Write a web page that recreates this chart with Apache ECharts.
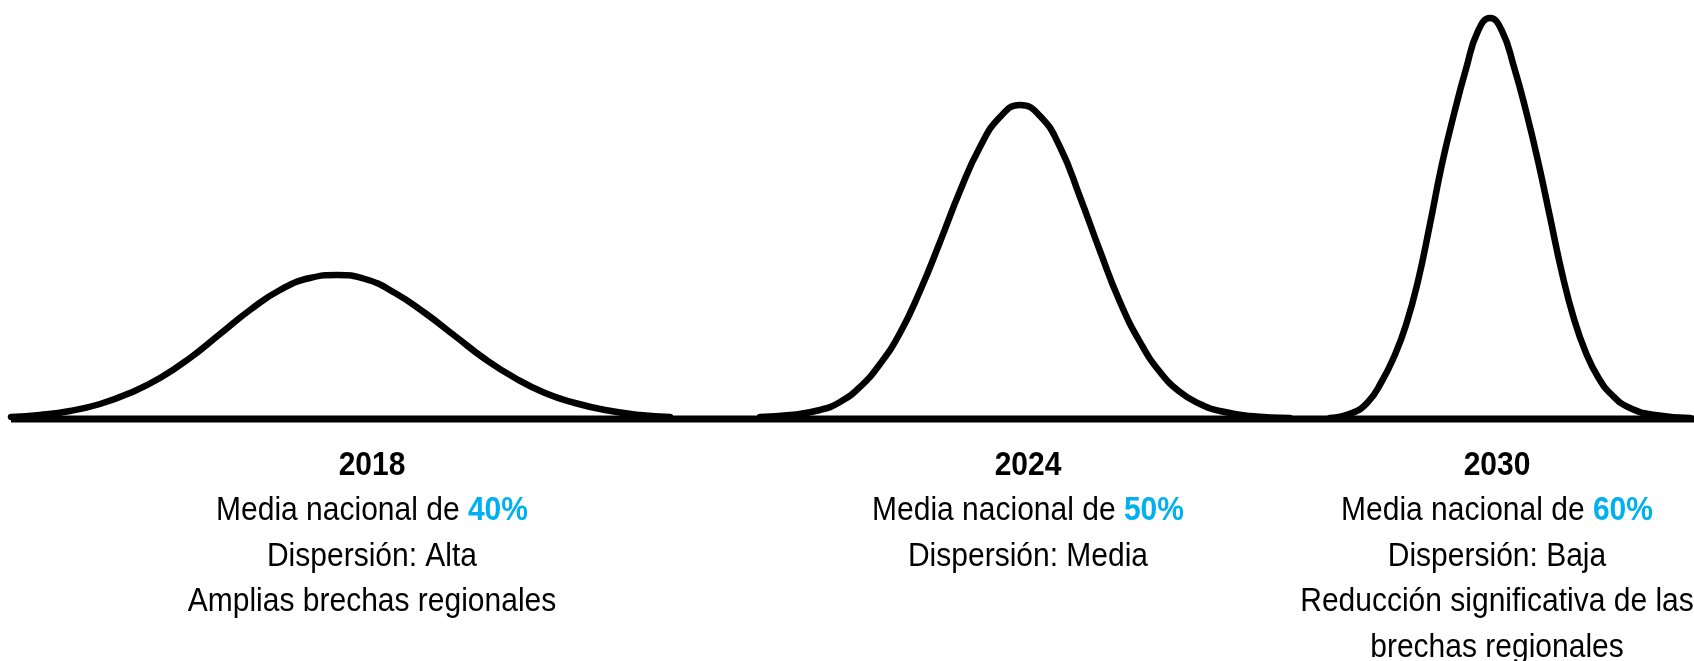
<!DOCTYPE html>
<html>
<head>
<meta charset="utf-8">
<script src="https://cdn.jsdelivr.net/npm/echarts@6/dist/echarts.min.js"></script>
<style>
  html, body { margin: 0; padding: 0; background: #ffffff; }
  #chart { width: 1694px; height: 661px; }
</style>
</head>
<body>
<div id="chart"></div>
<script>
// ---- data (x: horizontal position, y: height above the base line) ----
const years = ['2018', '2024', '2030'];
const means = ['40%', '50%', '60%'];
const dispersion = ['Alta', 'Media', 'Baja'];
const notes = [['Amplias brechas regionales'], [], ['Reducción significativa de las', 'brechas regionales']];

const curve2018 = [[11,2],[40,4],[70,8],[100,15],[130,26],[160,41],[190,61],[220,85],[250,109],[280,129],[310,141],[337,144],[365,140],[395,126],[425,106],[455,83],[485,60],[515,41],[545,26],[575,16],[605,9],[640,4],[670,2]];
const curve2024 = [[760,2],[790,4],[820,9],[840,17],[860,32],[880,55],[900,86],[920,128],[940,177],[960,228],[980,272],[1000,302],[1020,314],[1040,303],[1060,272],[1080,222],[1100,168],[1120,117],[1140,77],[1160,47],[1180,27],[1200,15],[1220,8],[1250,3],[1290,1]];
const curve2030 = [[1330,1],[1352,6],[1368,17],[1382,38],[1394,62],[1406,94],[1418,138],[1430,195],[1442,255],[1454,305],[1466,350],[1478,388],[1490,401],[1502,388],[1514,352],[1526,308],[1538,258],[1550,202],[1562,146],[1574,100],[1586,66],[1598,42],[1612,24],[1630,11],[1655,4],[1690,1]];
const baseline = [[11,0],[1694,0]];

// ---- layout ----
const labelCenters = [372, 1028, 1497];
const labelTop = 443;
const FONT = '"Liberation Sans", Arial, sans-serif';
const BLUE = '#00B0F0';

const chart = echarts.init(document.getElementById('chart'), null, { renderer: 'canvas' });

function curveSeries(name, data, width) {
  return {
    name: name,
    type: 'line',
    data: data,
    smooth: 0.5,
    showSymbol: false,
    symbol: 'none',
    lineStyle: { color: '#000000', width: width, cap: 'round', join: 'round' },
    z: 3,
    silent: true
  };
}

const graphics = years.map(function (yr, i) {
  const lines = ['{b|' + yr + '}', '{n|Media nacional de }{c|' + means[i] + '}', '{n|Dispersión: ' + dispersion[i] + '}'];
  notes[i].forEach(function (t) { lines.push('{n|' + t + '}'); });
  return {
    type: 'text',
    x: labelCenters[i],
    y: labelTop,
    scaleX: 1,
    scaleY: 1.1,
    silent: true,
    style: {
      text: lines.join('\n'),
      textAlign: 'center',
      textVerticalAlign: 'top',
      fill: '#000',
      font: '30px ' + FONT,
      rich: {
        b: { fontFamily: FONT, fontSize: 30, fontWeight: 'bold', fill: '#000', lineHeight: 41.4 },
        n: { fontFamily: FONT, fontSize: 30, fill: '#000', lineHeight: 41.4 },
        c: { fontFamily: FONT, fontSize: 30, fontWeight: 'bold', fill: BLUE, lineHeight: 41.4 }
      }
    }
  };
});

chart.setOption({
  animation: false,
  backgroundColor: '#ffffff',
  grid: { left: 0, right: 0, top: 0, bottom: 0, containLabel: false },
  xAxis: { type: 'value', min: 0, max: 1694, show: false },
  yAxis: { type: 'value', min: -242, max: 419, show: false },
  series: [
    { name: 'base', type: 'line', data: baseline, showSymbol: false, symbol: 'none',
      lineStyle: { color: '#000000', width: 7, cap: 'butt' }, z: 2, silent: true },
    curveSeries('2018', curve2018, 6.5),
    curveSeries('2024', curve2024, 6.5),
    curveSeries('2030', curve2030, 6.5)
  ],
  graphic: graphics
});
</script>
</body>
</html>
